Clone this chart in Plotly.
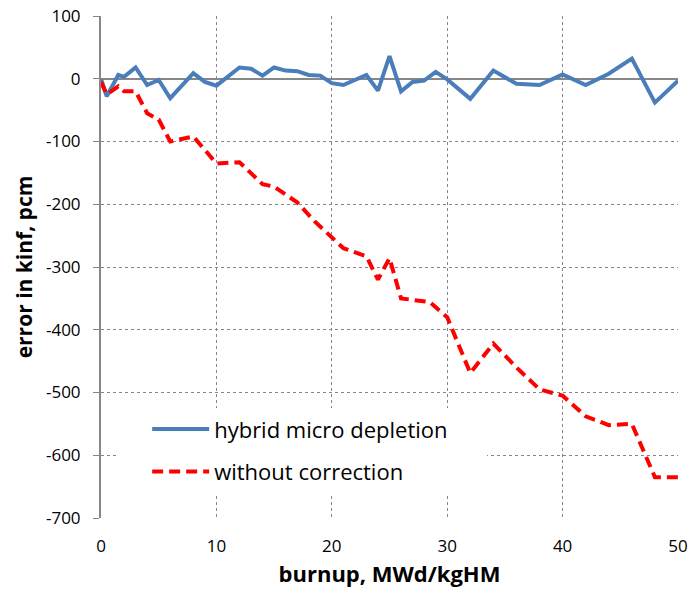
import plotly.graph_objects as go

# burnup points and errors (pcm)
hybrid_x = [0, 0.5, 1.5, 2, 3, 4, 5, 6, 8, 9, 10, 12, 13, 14, 15, 16, 17, 18, 19, 20,
            21, 23, 24, 25, 26, 27, 28, 29, 30, 32, 34, 36, 38, 40, 42, 44, 46, 48, 50]
hybrid_y = [0, -28, 6, 3, 18, -10, -2, -31, 9, -5, -11, 18, 16, 5, 18, 13, 12, 6, 5, -7,
            -10, 6, -19, 36, -20, -5, -3, 11, -1, -32, 13, -8, -10, 7, -10, 8, 32, -38, -3]

nocorr_x = [0, 0.5, 1.5, 2, 3, 4, 5, 6, 8, 10, 12, 14, 15, 17, 18.5, 20, 21, 23, 24, 25,
            26, 28.5, 30, 32, 34, 36, 38, 40, 42, 44, 46, 48, 50]
nocorr_y = [-5, -25, -12, -20, -20, -55, -65, -100, -92, -135, -133, -168, -172, -197, -227,
            -254, -270, -283, -320, -286, -350, -356, -380, -469, -422, -460, -495, -505,
            -538, -552, -550, -635, -635]

x_ticks = [0, 10, 20, 30, 40, 50]
y_ticks = [100, 0, -100, -200, -300, -400, -500, -600, -700]
y_ticktext = ["100", "0", "-100", "-200", "-300", "-400", "-500", "-600", "-700"]

FONT = "Open Sans"
GRID = "#878787"

fig = go.Figure()
fig.add_trace(go.Scatter(x=hybrid_x, y=hybrid_y, mode="lines", name="hybrid micro depletion",
                         legend="legend",
                         line=dict(color="#4A7EBB", width=4)))
fig.add_trace(go.Scatter(x=nocorr_x, y=nocorr_y, mode="lines", name="without correction",
                         legend="legend2",
                         line=dict(color="#FF0000", width=4, dash="11px,6px")))

leg_common = dict(xanchor="left", yanchor="middle", bgcolor="rgba(0,0,0,0)", borderwidth=0,
                  font=dict(family=FONT, size=22, color="black"), itemwidth=57)

fig.update_layout(
    width=689, height=597,
    margin=dict(l=101, r=11, t=16, b=79),
    paper_bgcolor="white", plot_bgcolor="white",
    font=dict(family=FONT, size=17, color="black"),
    showlegend=True,
    legend=dict(x=0.08, y=0.177, **leg_common),
    legend2=dict(x=0.08, y=0.092, **leg_common),
    shapes=[dict(type="rect", xref="paper", yref="paper", x0=0.0295, x1=0.669,
                 y0=0.05, y1=0.219, fillcolor="white", line=dict(width=0), layer="above")],
    xaxis=dict(range=[0, 50], tickvals=x_ticks, showgrid=True, gridcolor=GRID,
               griddash="dot", gridwidth=1, zeroline=False, showline=False,
               ticks="", tickfont=dict(size=17), ticklabelstandoff=16, automargin=False,
               title=dict(text="<b>burnup, MWd/kgHM</b>", font=dict(size=22), standoff=10)),
    yaxis=dict(range=[-700, 100], tickvals=y_ticks, ticktext=y_ticktext, showgrid=True,
               gridcolor=GRID, griddash="dot", gridwidth=1, zeroline=True,
               zerolinecolor=GRID, zerolinewidth=2, showline=True, linecolor=GRID,
               linewidth=2, ticks="outside", ticklen=6, tickcolor=GRID, tickwidth=1,
               tickfont=dict(size=17), ticklabelstandoff=9, automargin=False,
               title=dict(text="<b>error in kinf, pcm</b>", font=dict(size=21), standoff=8)),
)

fig.write_html("out.html")
